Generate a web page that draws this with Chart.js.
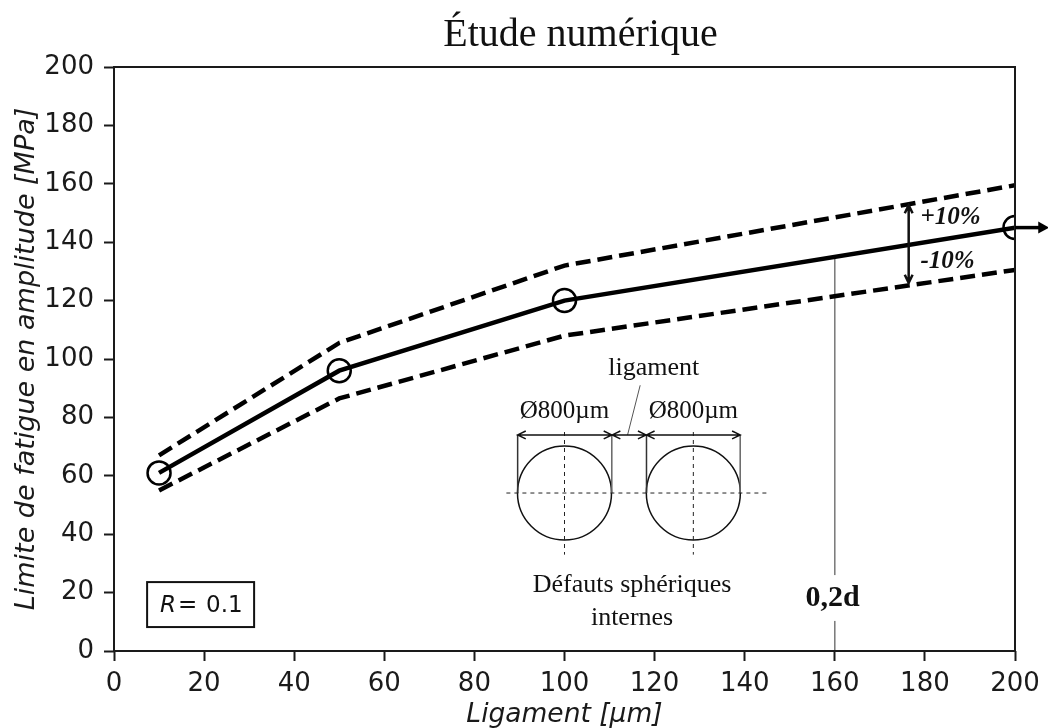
<!DOCTYPE html>
<html>
<head>
<meta charset="utf-8">
<script src="https://cdn.jsdelivr.net/npm/chart.js@4"></script>
<style>
    html, body { margin: 0; padding: 0; background: #fff; }
    canvas { display: block; }
</style>
</head>
<body>
<canvas id="chart" width="1048" height="728"></canvas>
<script>
// courbe principale et bande +/-10%
const ligament = [10, 50, 100, 200];
const limite = [61, 96, 120, 145];
const limiteHaut = [67, 105.5, 132, 159.5];
const limiteBas = [55, 86.5, 108, 130.5];

const xTicks = [0, 20, 40, 60, 80, 100, 120, 140, 160, 180, 200];
const yTicks = [0, 20, 40, 60, 80, 100, 120, 140, 160, 180, 200];

// repere 0,2d
const repereX = [160, 160];
const repereY = [0, 135];

// schema des defauts
const defautsX = [100, 128.6];
const defautsY = [54.1, 54.1];
const axeDefautsX = [87.1, 145.4];
const axeDefautsY = [54.1, 54.1];
const axeVertY = [75, 33];
const rappelX = [89.6, 110.5, 118.2, 139];
const rappelY = [74, 54.1];
const leaderX = [116.8, 114];
const leaderY = [91, 74];

// fleches [x1, y1, x2, y2]
const flechesCotes = [
    [89.6, 74, 110.5, 74],
    [110.6, 74, 118.1, 74],
    [118.2, 74, 139, 74]
];
const flecheBande = [176.4, 152.7, 176.4, 126.1];
const flecheSortie = [200, 145, 207.6, 145];

const etiquettes = [
    { text: 'ligament', x: 119.8, y: 97 },
    { text: 'Défauts sphériques', x: 115, y: 22.4 },
    { text: 'internes', x: 115, y: 11.4 }
];
const cotes = [
    { text: 'Ø800µm', x: 100, y: 82.2 },
    { text: 'Ø800µm', x: 128.6, y: 82.2 }
];

const sans = '"DejaVu Sans", sans-serif';
const serif = '"Liberation Serif", serif';

function pairs(xs, ys) {
    return xs.map((x, i) => ({ x: x, y: ys[i] }));
}

function thinLine(xs, ys, color, width, dash) {
    return {
        data: pairs(xs, ys),
        showLine: true,
        borderColor: color,
        borderWidth: width,
        borderDash: dash || [],
        pointRadius: 0,
        clip: false
    };
}

function arrow(ctx, x1, y1, x2, y2, len) {
    const ang = Math.atan2(y2 - y1, x2 - x1);
    ctx.beginPath();
    ctx.moveTo(x1, y1);
    ctx.lineTo(x2, y2);
    [[x1, y1, ang], [x2, y2, ang + Math.PI]].forEach(h => {
        ctx.moveTo(h[0] + len * Math.cos(h[2] + 0.45), h[1] + len * Math.sin(h[2] + 0.45));
        ctx.lineTo(h[0], h[1]);
        ctx.lineTo(h[0] + len * Math.cos(h[2] - 0.45), h[1] + len * Math.sin(h[2] - 0.45));
    });
    ctx.stroke();
}

const overlay = {
    id: 'overlay',
    afterLayout(chart) {
        // le titre n'est pas centre sur la figure
        chart.titleBlock.left += 73;
        chart.titleBlock.right += 73;
    },
    afterDatasetsDraw(chart) {
        const ctx = chart.ctx;
        const xs = chart.scales.x;
        const ys = chart.scales.y;
        const a = chart.chartArea;
        const px = v => xs.getPixelForValue(v);
        const py = v => ys.getPixelForValue(v);

        ctx.save();

        // cadre
        ctx.strokeStyle = '#1a1a1a';
        ctx.lineWidth = 2;
        ctx.strokeRect(a.left, a.top, a.right - a.left, a.bottom - a.top);

        // fleches fines
        ctx.strokeStyle = '#111';
        ctx.lineWidth = 1.5;
        flechesCotes.forEach(f => arrow(ctx, px(f[0]), py(f[1]), px(f[2]), py(f[3]), 9));
        ctx.lineWidth = 2.5;
        arrow(ctx, px(flecheBande[0]), py(flecheBande[1]), px(flecheBande[2]), py(flecheBande[3]), 9);

        // fleche de sortie a droite
        const sx = px(flecheSortie[0]), sy = py(flecheSortie[1]), ex = px(flecheSortie[2]);
        ctx.strokeStyle = '#000';
        ctx.fillStyle = '#000';
        ctx.lineWidth = 3.5;
        ctx.beginPath();
        ctx.moveTo(sx, sy);
        ctx.lineTo(ex - 6, sy);
        ctx.stroke();
        ctx.beginPath();
        ctx.moveTo(ex, sy);
        ctx.lineTo(ex - 11, sy - 6);
        ctx.lineTo(ex - 11, sy + 6);
        ctx.closePath();
        ctx.fill();

        // etiquettes du schema
        ctx.fillStyle = '#111';
        ctx.textBaseline = 'middle';
        ctx.textAlign = 'center';
        ctx.font = '26px ' + serif;
        etiquettes.forEach(e => ctx.fillText(e.text, px(e.x), py(e.y)));
        ctx.font = '25px ' + serif;
        cotes.forEach(e => ctx.fillText(e.text, px(e.x), py(e.y)));

        // +10% / -10%
        ctx.textAlign = 'left';
        ctx.font = 'italic bold 25px ' + serif;
        ctx.fillText('+10%', px(179), py(148.3));
        ctx.fillText('-10%', px(179), py(133.4));

        // 0,2d sur fond blanc
        ctx.font = 'bold 30px ' + serif;
        ctx.textAlign = 'center';
        ctx.fillStyle = '#fff';
        ctx.fillRect(px(153.5), py(26), px(166.5) - px(153.5), py(10.3) - py(26));
        ctx.fillStyle = '#111';
        ctx.fillText('0,2d', px(159.5), py(18));

        // encadre R = 0.1
        const bx1 = px(7.35), bx2 = px(31.1), by1 = py(23.6), by2 = py(8.2);
        ctx.fillStyle = '#fff';
        ctx.fillRect(bx1, by1, bx2 - bx1, by2 - by1);
        ctx.strokeStyle = '#111';
        ctx.lineWidth = 2;
        ctx.strokeRect(bx1, by1, bx2 - bx1, by2 - by1);
        ctx.fillStyle = '#111';
        ctx.textAlign = 'left';
        const by = (by1 + by2) / 2 + 1;
        ctx.font = 'italic 23px ' + sans;
        ctx.fillText('R', bx1 + 13, by);
        ctx.font = '23px ' + sans;
        ctx.fillText('=', bx1 + 31, by);
        ctx.fillText('0.1', bx1 + 59, by);

        ctx.restore();
    }
};

new Chart(document.getElementById('chart'), {
    type: 'scatter',
    plugins: [overlay],
    data: {
        datasets: [
            {
                data: pairs(ligament, limite),
                showLine: true,
                borderColor: '#000',
                borderWidth: 4.5,
                pointRadius: 0,
                clip: 0
            },
            {
                data: pairs(ligament, limite),
                borderColor: '#000',
                backgroundColor: 'transparent',
                pointBorderWidth: 2.5,
                pointRadius: 11.5,
                clip: 0
            },
            {
                data: pairs(ligament, limiteHaut),
                showLine: true,
                borderColor: '#000',
                borderWidth: 4.5,
                borderDash: [15, 7],
                pointRadius: 0,
                clip: 0
            },
            {
                data: pairs(ligament, limiteBas),
                showLine: true,
                borderColor: '#000',
                borderWidth: 4.5,
                borderDash: [15, 7],
                pointRadius: 0,
                clip: 0
            },
            thinLine(repereX, repereY, '#777', 1.5),
            thinLine(axeDefautsX, axeDefautsY, '#222', 1, [4, 4]),
            thinLine([defautsX[0], defautsX[0]], axeVertY, '#222', 1, [4, 4]),
            thinLine([defautsX[1], defautsX[1]], axeVertY, '#222', 1, [4, 4]),
            thinLine([rappelX[0], rappelX[0]], rappelY, '#333', 1.5),
            thinLine([rappelX[1], rappelX[1]], rappelY, '#666', 1.5),
            thinLine([rappelX[2], rappelX[2]], rappelY, '#333', 1.5),
            thinLine([rappelX[3], rappelX[3]], rappelY, '#666', 1.5),
            thinLine(leaderX, leaderY, '#555', 1),
            {
                data: pairs(defautsX, defautsY),
                borderColor: '#111',
                backgroundColor: 'transparent',
                pointBorderWidth: 1.5,
                pointRadius: 47,
                clip: false
            }
        ]
    },
    options: {
        responsive: false,
        animation: false,
        events: [],
        layout: { autoPadding: false, padding: { right: 33 } },
        plugins: {
            legend: { display: false },
            tooltip: { enabled: false },
            title: {
                display: true,
                text: 'Étude numérique',
                color: '#111',
                font: { family: serif, size: 40, weight: 'normal' },
                padding: { top: 11, bottom: 8 }
            }
        },
        scales: {
            x: {
                type: 'linear',
                min: 0,
                max: 200,
                afterBuildTicks(axis) { axis.ticks = xTicks.map(v => ({ value: v })); },
                afterFit(axis) {
                    axis.height = 77;
                    axis.paddingLeft = 0;
                    axis.paddingRight = 0;
                },
                grid: { drawOnChartArea: false, drawTicks: true, tickLength: 10, tickWidth: 2, tickColor: '#1a1a1a' },
                border: { display: false },
                ticks: {
                    color: '#1a1a1a',
                    maxRotation: 0,
                    autoSkip: false,
                    padding: 8,
                    font: { family: sans, size: 26 }
                },
                title: {
                    display: true,
                    text: 'Ligament [µm]',
                    color: '#1a1a1a',
                    font: { family: sans, size: 26.5, style: 'italic', lineHeight: 1 },
                    padding: { top: 0, bottom: 0 }
                }
            },
            y: {
                type: 'linear',
                min: 0,
                max: 200,
                afterBuildTicks(axis) { axis.ticks = yTicks.map(v => ({ value: v })); },
                afterFit(axis) { axis.width = 114; },
                grid: { drawOnChartArea: false, drawTicks: true, tickLength: 10, tickWidth: 2, tickColor: '#1a1a1a' },
                border: { display: false },
                ticks: {
                    color: '#1a1a1a',
                    autoSkip: false,
                    padding: 10,
                    font: { family: sans, size: 26 }
                },
                title: {
                    display: true,
                    text: 'Limite de fatigue en amplitude [MPa]',
                    color: '#1a1a1a',
                    font: { family: sans, size: 27, style: 'italic' },
                    padding: { top: 11, bottom: 0 }
                }
            }
        }
    }
});
</script>
</body>
</html>
